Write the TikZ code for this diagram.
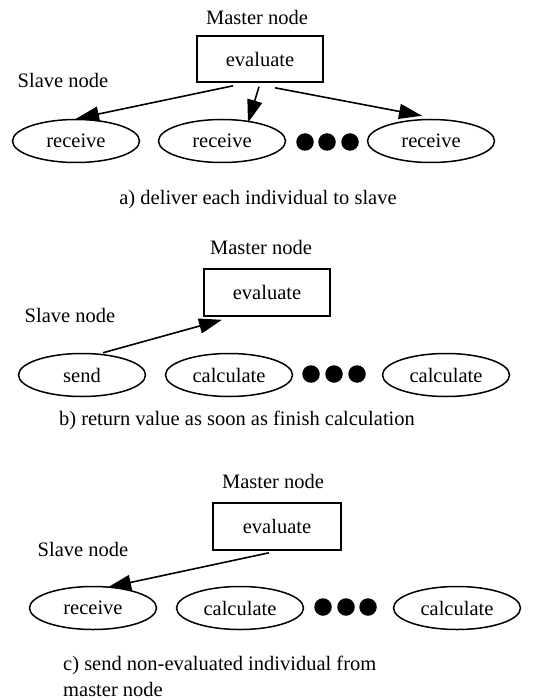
\documentclass[tikz,border=0pt]{standalone}
\usepackage{fontspec}
\setmainfont{Liberation Serif}
\usetikzlibrary{shapes.geometric,arrows.meta}
\begin{document}
\begin{tikzpicture}[x=1pt,y=-1pt,
  every node/.style={font=\fontsize{20.5}{26}\selectfont},
  lbl/.style={inner sep=0pt},
  mbox/.style={draw,line width=1.6pt,minimum width=126pt,minimum height=46pt,inner sep=0pt},
  oval/.style={draw,ellipse,line width=1.5pt,minimum width=127pt,minimum height=43pt,inner sep=0pt},
  blob/.style={circle,fill=black,minimum size=17.5pt,inner sep=0pt},
  arr/.style={line width=1.6pt,-{Triangle[length=23pt,width=15pt]}}]
\useasboundingbox (0,0) rectangle (541,700);
% ---- panel a
\node[lbl] (ma) at (257,17) {Master node};
\node[mbox] (ea) at (260,59) {evaluate};
\node[lbl] (sa) at (63,80) {Slave node};
\node[oval] (ra1) at (76,141) {receive};
\node[oval] (ra2) at (222,141) {receive};
\node[blob] (da1) at (305,142) {};
\node[blob] (da2) at (327,142) {};
\node[blob] (da3) at (350,142) {};
\node[oval] (ra3) at (431,141) {receive};
\node[lbl] (ca) at (258,200) {a) deliver each individual to slave};
\draw[arr] ([xshift=-27pt,yshift=-3pt]ea.south) -- (ra1.north);
\draw[arr] ([xshift=-1pt,yshift=-4pt]ea.south) -- ([xshift=26pt,yshift=-4pt]ra2.north);
\draw[arr] ([xshift=15pt,yshift=-5pt]ea.south) -- ([xshift=-9pt,yshift=3pt]ra3.north);
% ---- panel b
\node[lbl] (mb) at (261,247) {Master node};
\node[mbox,minimum height=47pt] (eb) at (267,292.5) {evaluate};
\node[lbl] (sb) at (70,315) {Slave node};
\node[oval] (rb1) at (82,375) {send};
\node[oval] (rb2) at (229,375) {calculate};
\node[blob] (db1) at (311,374) {};
\node[blob] (db2) at (334,374) {};
\node[blob] (db3) at (357,374) {};
\node[oval] (rb3) at (446,375) {calculate};
\node[lbl] (cb) at (237,420) {b) return value as soon as finish calculation};
\draw[arr] ([xshift=21pt]rb1.north) -- ([xshift=-45pt,yshift=-3pt]eb.south);
% ---- panel c
\node[lbl] (mc) at (273,481) {Master node};
\node[mbox,minimum width=128pt,minimum height=47pt] (ec) at (277,526.5) {evaluate};
\node[lbl] (sc) at (83,549) {Slave node};
\node[oval] (rc1) at (93,608) {receive};
\node[oval] (rc2) at (240,608) {calculate};
\node[blob] (dc1) at (323,607) {};
\node[blob] (dc2) at (346,607) {};
\node[blob] (dc3) at (368,607) {};
\node[oval] (rc3) at (457,608) {calculate};
\node[lbl,anchor=west,align=left] (cc) at (63,676) {c) send non-evaluated individual from\\master node};
\draw[arr] ([xshift=-8pt,yshift=-2pt]ec.south) -- ([xshift=15pt,yshift=-1.5pt]rc1.north);
\end{tikzpicture}
\end{document}
